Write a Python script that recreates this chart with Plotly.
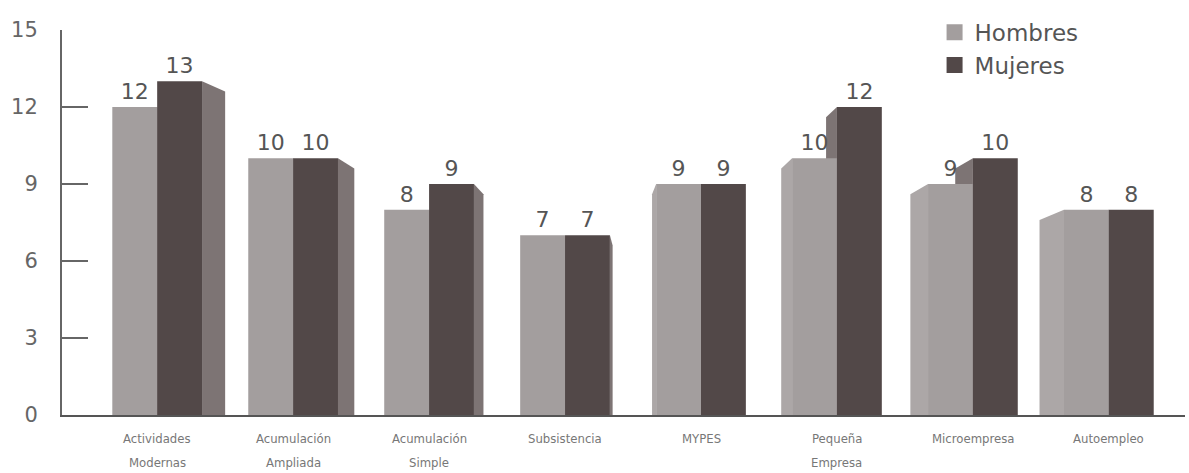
import plotly.graph_objects as go

categorias = ["Actividades<br>Modernas", "Acumulación<br>Ampliada", "Acumulación<br>Simple",
              "Subsistencia", "MYPES", "Pequeña<br>Empresa", "Microempresa", "Autoempleo"]
hombres = [12, 10, 8, 7, 9, 10, 9, 8]
mujeres = [13, 10, 9, 7, 9, 12, 10, 8]
y_ticks = [0, 3, 6, 9, 12, 15]

color_h = "#a39e9e"
color_m = "#524848"
lado_h = "#aca7a7"   # side face, Hombres
lado_m = "#7d7474"   # side face, Mujeres

x = list(range(len(categorias)))
ancho = 0.33                 # width of each bar (axis units)
fuente_num = "DejaVu Sans"

fig = go.Figure()
fig.add_trace(go.Bar(name="Hombres", x=x, y=hombres, width=ancho, offset=-ancho,
                     marker_color=color_h, marker_line_width=0,
                     text=hombres, textposition="outside",
                     textfont=dict(size=22, color="#555", family=fuente_num),
                     cliponaxis=False, showlegend=False))
fig.add_trace(go.Bar(name="Mujeres", x=x, y=mujeres, width=ancho, offset=0,
                     marker_color=color_m, marker_line_width=0,
                     text=mujeres, textposition="outside",
                     textfont=dict(size=22, color="#555", family=fuente_num),
                     cliponaxis=False, showlegend=False))

# legend entries with large square swatches
for nombre, col in (("Hombres", color_h), ("Mujeres", color_m)):
    fig.add_trace(go.Scatter(x=[None], y=[None], mode="markers", name=nombre,
                             marker=dict(symbol="square", size=19, color=col)))

# pseudo-3D side faces: depth leans outward from the middle of the chart
foco = 3.4        # horizontal vanishing position (axis units)
k_prof = 0.05     # depth per unit of distance from the vanishing position
caida = 0.4       # back edge sits this much lower than the front edge
shapes = []
for i in x:
    dx = k_prof * (foco - i)
    for v, x0, col in ((hombres[i], i - ancho, lado_h), (mujeres[i], i, lado_m)):
        x1 = x0 + ancho
        borde = x1 if dx > 0 else x0
        path = (f"M {borde},0 L {borde},{v} L {borde + dx},{v - caida} "
                f"L {borde + dx},0 Z")
        shapes.append(dict(type="path", path=path, xref="x", yref="y",
                           fillcolor=col, line=dict(width=0), layer="below"))

# category labels, one annotation per text line
anots = []
for i, cat in enumerate(categorias):
    for j, linea in enumerate(cat.split("<br>")):
        anots.append(dict(x=i, y=0, xref="x", yref="y", text=linea, showarrow=False,
                          yanchor="top", yshift=-14 - 24 * j,
                          font=dict(size=13, family="DejaVu Sans Condensed, Liberation Sans",
                                    color="#777")))

fig.update_layout(
    width=1189, height=473,
    margin=dict(l=62, r=4, t=30, b=58),
    paper_bgcolor="white", plot_bgcolor="white",
    shapes=shapes, annotations=anots,
    font=dict(family=fuente_num, color="#555"),
    legend=dict(x=0.777, y=1.05, xanchor="left", yanchor="top",
                font=dict(size=23, color="#555", family=fuente_num),
                bgcolor="rgba(0,0,0,0)", itemwidth=30, tracegroupgap=0),
    xaxis=dict(range=[-0.7, 7.56], tickvals=x, showticklabels=False,
               showgrid=False, showline=True, linecolor="#555", linewidth=2,
               ticks="", zeroline=False),
    yaxis=dict(range=[0, 15], tickvals=y_ticks, showgrid=False, zeroline=False,
               showline=True, linecolor="#666", linewidth=2,
               ticks="inside", ticklen=26, tickwidth=2, tickcolor="#666",
               tickfont=dict(size=21, color="#666", family=fuente_num),
               ticklabelstandoff=18),
)
fig.write_html("out.html")
